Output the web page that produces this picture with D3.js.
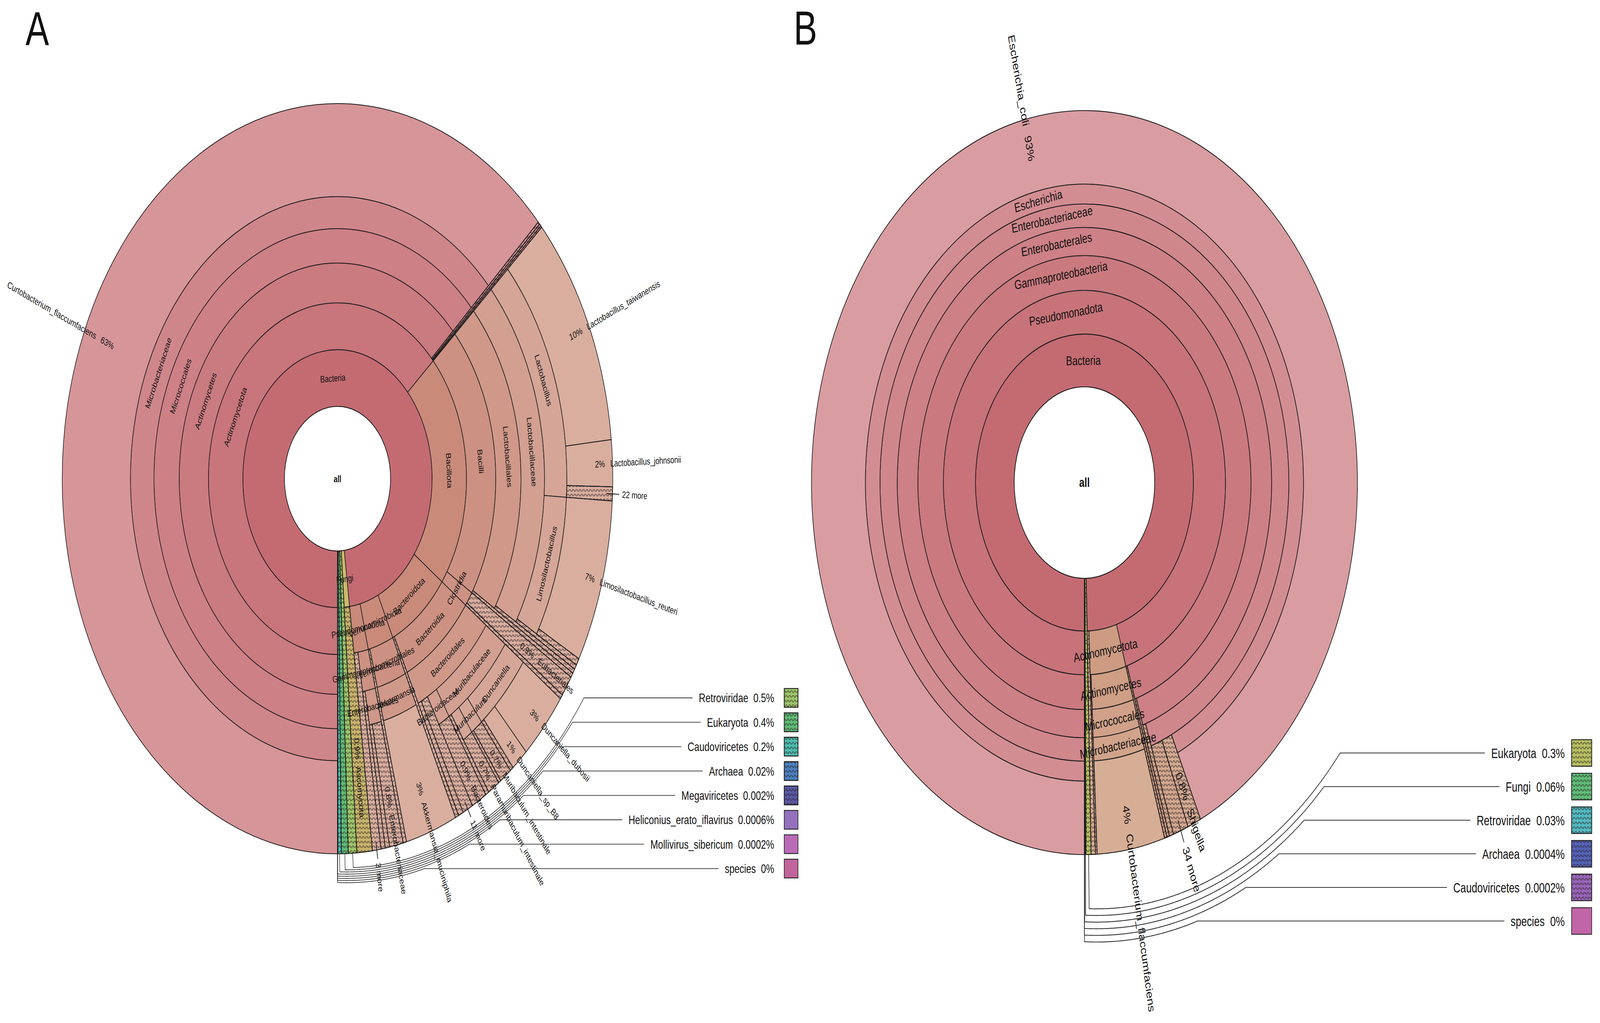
<!DOCTYPE html>
<html lang="en">
<head>
<meta charset="UTF-8">
<title>Krona charts A and B</title>
<script src="https://d3js.org/d3.v7.min.js"></script>
<style>
  html, body { margin: 0; padding: 0; background: #fff; overflow: hidden; }
  svg { display: block; width: 100vw; height: 100vh; font-family: "Liberation Sans", Arial, Helvetica, sans-serif; }
</style>
</head>
<body>
<div id="chart"></div>
<script>
// ---------- panel A data: [id, parent, percent] (ids starting with "~" are unnamed groups) ----------
const A_base = [["all", null], ["Bacteria", "all"]];
const A_actinomycetota = [
  ["Actinomycetota", "Bacteria"],
  ["Actinomycetes", "Actinomycetota"],
  ["Micrococcales", "Actinomycetes"],
  ["Microbacteriaceae", "Micrococcales"],
  ["Curtobacterium_flaccumfaciens", "Microbacteriaceae", 62.8],
  ["~ac1", "Actinomycetota", 0.12],
  ["~ac2", "Actinomycetota", 0.1],
  ["~ac3", "Actinomycetota", 0.08]
];
const A_bacillota = [
  ["Bacillota", "Bacteria"],
  ["Bacilli", "Bacillota"],
  ["Lactobacillales", "Bacilli"],
  ["Lactobacillaceae", "Lactobacillales"],
  ["Lactobacillus", "Lactobacillaceae"],
  ["Lactobacillus_taiwanensis", "Lactobacillus", 10],
  ["Lactobacillus_johnsonii", "Lactobacillus", 2],
  ["22 more", "Lactobacillus", 0.6],
  ["Limosilactobacillus", "Lactobacillaceae"],
  ["Limosilactobacillus_reuteri", "Limosilactobacillus", 7],
  ["~lb1", "Limosilactobacillus", 0.3],
  ["~lb2", "Lactobacillaceae", 0.2],
  ["~lb3", "Lactobacillales", 0.2],
  ["~lb4", "Bacilli", 0.2],
  ["Clostridia", "Bacillota"],
  ["Eubacteriales", "Clostridia", 0.9],
  ["~cl1", "Clostridia", 0.2]
];
const A_bacteroidota = [
  ["Bacteroidota", "Bacteria"],
  ["Bacteroidia", "Bacteroidota"],
  ["Bacteroidales", "Bacteroidia"],
  ["Muribaculaceae", "Bacteroidales"],
  ["Duncaniella", "Muribaculaceae"],
  ["Duncaniella_dubosii", "Duncaniella", 3],
  ["Duncaniella_sp_B8", "Duncaniella", 1],
  ["~dn1", "Duncaniella", 0.2],
  ["Muribaculum", "Muribaculaceae"],
  ["Muribaculum_intestinale", "Muribaculum", 0.7],
  ["~mb1", "Muribaculum", 0.15],
  ["~Paramuribaculum", "Muribaculaceae"],
  ["Paramuribaculum_intestinale", "~Paramuribaculum", 0.7],
  ["~mu1", "Muribaculaceae", 0.2],
  ["Bacteroidaceae", "Bacteroidales"],
  ["Bacteroides", "Bacteroidaceae", 0.9],
  ["11 more", "Bacteroidales", 0.6],
  ["~bd1", "Bacteroidales", 0.3],
  ["~bd2", "Bacteroidota", 0.2]
];
const A_verrucomicrobiota = [
  ["Verrucomicrobiota", "Bacteria"],
  ["Verrucomicrobiales", "Verrucomicrobiota"],
  ["Akkermansia", "Verrucomicrobiales"],
  ["Akkermansia_muciniphila", "Akkermansia", 3],
  ["~vr1", "Verrucomicrobiota", 0.2]
];
const A_pseudomonadota = [
  ["Pseudomonadota", "Bacteria"],
  ["Gammaproteobacteria", "Pseudomonadota"],
  ["Enterobacterales", "Gammaproteobacteria"],
  ["Enterobacteriaceae", "Enterobacterales", 0.8],
  ["~ps1", "Enterobacterales", 0.25],
  ["~ps2", "Gammaproteobacteria", 0.25],
  ["3 more", "Pseudomonadota", 0.5]
];
const A_others = [
  ["Fungi", "all"],
  ["Ascomycota", "Fungi", 0.9],
  ["Retroviridae", "all", 0.5],
  ["Eukaryota", "all", 0.4],
  ["Caudoviricetes", "all", 0.2],
  ["Archaea", "all", 0.02],
  ["Megaviricetes", "all", 0.002],
  ["Heliconius_erato_iflavirus", "all", 0.0006],
  ["Mollivirus_sibericum", "all", 0.0002],
  ["species", "all", 0]
];
const A_keyNames = ["Retroviridae", "Eukaryota", "Caudoviricetes", "Archaea", "Megaviricetes",
  "Heliconius_erato_iflavirus", "Mollivirus_sibericum", "species"];
const A_hatched = ["~ac1", "~ac2", "~ac3", "22 more", "~lb1", "~lb2", "~lb3", "~lb4", "Eubacteriales", "~cl1",
  "~dn1", "Muribaculum_intestinale", "~mb1", "Paramuribaculum_intestinale", "~mu1", "Bacteroides", "11 more",
  "~bd1", "~bd2", "~vr1", "Enterobacteriaceae", "~ps1", "~ps2", "3 more", "Ascomycota",
  "Retroviridae", "Eukaryota", "Caudoviricetes", "Archaea", "Megaviricetes"];

// ---------- panel B data ----------
const B_base = [["all", null], ["Bacteria", "all"]];
const B_pseudomonadota = [
  ["Pseudomonadota", "Bacteria"],
  ["Gammaproteobacteria", "Pseudomonadota"],
  ["Enterobacterales", "Gammaproteobacteria"],
  ["Enterobacteriaceae", "Enterobacterales"],
  ["Escherichia", "Enterobacteriaceae"],
  ["Escherichia_coli", "Escherichia", 93],
  ["Shigella", "Enterobacteriaceae", 0.8],
  ["34 more", "Enterobacteriaceae", 0.9],
  ["~eb2", "Enterobacterales", 0.25],
  ["~eb3", "Gammaproteobacteria", 0.15],
  ["~eb4", "Pseudomonadota", 0.15]
];
const B_actinomycetota = [
  ["Actinomycetota", "Bacteria"],
  ["Actinomycetes", "Actinomycetota"],
  ["Micrococcales", "Actinomycetes"],
  ["Microbacteriaceae", "Micrococcales"],
  ["Curtobacterium_flaccumfaciens", "Microbacteriaceae", 4],
  ["~ac1", "Actinomycetota", 0.1],
  ["~bo1", "Bacteria", 0.25]
];
const B_others = [
  ["Eukaryota", "all", 0.3],
  ["Fungi", "all", 0.06],
  ["Retroviridae", "all", 0.03],
  ["Archaea", "all", 0.0004],
  ["Caudoviricetes", "all", 0.0002],
  ["species", "all", 0]
];
const B_keyNames = ["Eukaryota", "Fungi", "Retroviridae", "Archaea", "Caudoviricetes", "species"];
const B_hatched = ["Shigella", "34 more", "~eb2", "~eb3", "~eb4", "~ac1", "~bo1",
  "Eukaryota", "Fungi", "Retroviridae", "Archaea", "Caudoviricetes"];

// ---------- colours ----------
const A_palette = {
  Bacteria: "#c46b72",
  ramps: { Actinomycetota: ["#c8757b", "#d18b90", "#d69599"], other: ["#c98a7a", "#d5a698", "#d9ae9f"] },
  solid: { Fungi: "#cdb96f", Ascomycota: "#c8b46b", Retroviridae: "#9dc56a", Eukaryota: "#5ebc77",
    Caudoviricetes: "#4dbcae", Archaea: "#4a80bf", Megaviricetes: "#5a57a6",
    Heliconius_erato_iflavirus: "#9571bd", Mollivirus_sibericum: "#b96bb6", species: "#c1649b" }
};
const B_palette = {
  Bacteria: "#c46b72",
  ramps: { Pseudomonadota: ["#c77379", "#d28d92", "#d99da1"], other: ["#cc9b82", "#d3a68d", "#d6ad95"] },
  solid: { Shigella: "#d5ab93", "34 more": "#d3a78f", "~eb2": "#d1a38b", "~eb3": "#cf9f87", "~eb4": "#cd9b84",
    Eukaryota: "#b7c062", Fungi: "#5fbd78", Retroviridae: "#52bbc2", Archaea: "#5462b8",
    Caudoviricetes: "#9865b9", species: "#c165a7" }
};

const width = 5580, height = 2618;
// the drawing is laid out on a 5580 x 2618 grid and stretched to fill the window
const svg = d3.select("#chart").append("svg")
  .attr("viewBox", `0 0 ${width} ${height}`)
  .attr("preserveAspectRatio", "none");
svg.append("rect").attr("width", width).attr("height", height).attr("fill", "#fff");

const pat = svg.append("defs").append("pattern")
  .attr("id", "hatch").attr("patternUnits", "userSpaceOnUse")
  .attr("width", 24).attr("height", 24);
pat.append("path")
  .attr("d", "M1,9L5,3M7,3L11,9M13,9L17,3M19,3L23,9M1,15L5,21M7,21L11,15M13,15L17,21M19,21L23,15")
  .attr("stroke", "#2b1f1f").attr("stroke-width", 1.5).attr("fill", "none");

const fmtPct = v => v >= 1 ? Math.round(v) + "%" : (v === 0 ? "0%" : d3.format(".1r")(v) + "%");

function colourFor(n, pal) {
  if (pal.solid[n.id]) return pal.solid[n.id];
  if (n.depth === 1) return pal.Bacteria;
  const phylum = n.ancestors().find(a => a.depth === 2);
  const ramp = pal.ramps[phylum.id] || pal.ramps.other;
  if (!n.children) return ramp[2];
  return d3.interpolateRgb(ramp[0], ramp[1])(Math.min(1, (n.depth - 2) / 4));
}

function drawPanel(cfg) {
  const g = svg.append("g");
  const root = d3.stratify().id(d => d[0]).parentId(d => d[1])(cfg.rows);
  root.sum(d => d[2] || 0);
  d3.partition().size([2 * Math.PI, 1])(root);

  const R = cfg.radii, rEdge = R[R.length - 1];
  const hatched = new Set(cfg.hatched);
  const keySet = new Set(cfg.keyNames);
  const ang = x => Math.PI + x;                       // start at the bottom, clockwise
  const pol = (r, a) => [cfg.cx + r * Math.sin(a), cfg.cy - r * Math.cos(a)];
  const inner = n => R[n.depth - 1];
  const outer = n => n.children ? R[n.depth] : rEdge;
  const arc = d3.arc()
    .startAngle(n => ang(n.x0)).endAngle(n => ang(n.x1))
    .innerRadius(inner).outerRadius(outer);

  const nodes = root.descendants().filter(n => n.depth > 0 && n.x1 > n.x0);
  const wg = g.append("g").attr("transform", `translate(${cfg.cx},${cfg.cy})`);
  wg.selectAll("path.wedge").data(nodes).join("path").attr("class", "wedge")
    .attr("d", arc).attr("fill", n => colourFor(n, cfg.palette))
    .attr("stroke", "#1a1a1a").attr("stroke-width", cfg.stroke);
  wg.selectAll("path.hatch").data(nodes.filter(n => hatched.has(n.id))).join("path").attr("class", "hatch")
    .attr("d", arc).attr("fill", "url(#hatch)")
    .attr("stroke", "#1a1a1a").attr("stroke-width", cfg.stroke);
  wg.append("circle").attr("r", R[0]).attr("fill", "#fff")
    .attr("stroke", "#1a1a1a").attr("stroke-width", cfg.stroke);
  wg.append("text").attr("text-anchor", "middle").attr("dominant-baseline", "central")
    .attr("font-size", cfg.font).attr("font-weight", "bold").attr("fill", "#111").text("all");

  // labels
  const lab = g.append("g").attr("font-size", cfg.font).attr("fill", "#111");
  const s = cfg.font / 23;
  nodes.forEach(n => {
    const id = n.id;
    if (id.startsWith("~") || keySet.has(id)) return;
    const a = ang((n.x0 + n.x1) / 2);
    const deg = (a * 180 / Math.PI) % 360;
    if (n.children) {
      const [x, y] = pol((inner(n) + outer(n)) / 2, a);
      const rot = Math.cos(a) >= 0 ? deg : deg - 180;
      lab.append("text").attr("transform", `translate(${x},${y}) rotate(${rot})`)
        .attr("text-anchor", "middle").attr("dominant-baseline", "central").text(id);
      return;
    }
    const right = deg < 180;
    const rot = right ? deg - 90 : deg - 270;
    if (/^\d+ more$/.test(id)) {
      const [x1, y1] = pol(rEdge - 20 * s, a), [x2, y2] = pol(rEdge + 22 * s, a);
      lab.append("line").attr("x1", x1).attr("y1", y1).attr("x2", x2).attr("y2", y2)
        .attr("stroke", "#111").attr("stroke-width", 2.2);
      const [tx, ty] = pol(rEdge + 32 * s, a);
      lab.append("text").attr("transform", `translate(${tx},${ty}) rotate(${rot})`)
        .attr("text-anchor", right ? "start" : "end").attr("dominant-baseline", "central").text(id);
      return;
    }
    const span = rEdge - inner(n);
    const gap = rEdge - Math.max(14, 0.45 * span - 55);
    const [nx, ny] = pol(gap + 9 * s, a), [px, py] = pol(gap - 9 * s, a);
    lab.append("text").attr("transform", `translate(${nx},${ny}) rotate(${rot})`)
      .attr("text-anchor", right ? "start" : "end").attr("dominant-baseline", "central").text(id);
    lab.append("text").attr("transform", `translate(${px},${py}) rotate(${rot})`)
      .attr("text-anchor", right ? "end" : "start").attr("dominant-baseline", "central").text(fmtPct(n.value));
  });

  // key for the small wedges
  const K = cfg.key;
  cfg.keyNames.forEach((name, k) => {
    const n = root.find(d => d.id === name);
    const a = ang((n.x0 + n.x1) / 2);
    const y = K.y0 + k * K.dy;
    const kt = g.append("text").attr("x", K.textRight).attr("y", y)
      .attr("text-anchor", "end").attr("dominant-baseline", "central")
      .attr("font-size", K.font).attr("fill", "#111");
    kt.append("tspan").text(name);
    kt.append("tspan").attr("dx", K.font * 0.55).text(fmtPct(n.value));
    const left = kt.node().getBBox().x;

    const sw = g.append("g");
    sw.append("rect").attr("x", K.swatchX).attr("y", y - K.sh / 2).attr("width", K.sw).attr("height", K.sh)
      .attr("fill", colourFor(n, cfg.palette)).attr("stroke", "#222").attr("stroke-width", 2.2);
    if (hatched.has(name)) {
      sw.append("rect").attr("x", K.swatchX).attr("y", y - K.sh / 2).attr("width", K.sw).attr("height", K.sh)
        .attr("fill", "url(#hatch)").attr("stroke", "#222").attr("stroke-width", 2.2);
    }

    // radial drop, then a slowly widening arc round the chart, then straight to the label
    const pts = [pol(rEdge, a)];
    const rad = t => K.b0 + K.slope * (180 - t) + k * K.sp;
    let prev = null;
    for (let th = a * 180 / Math.PI - 360; th > 40; th -= 0.2) {
      const t = th * Math.PI / 180, r = rad(th);
      const p = [cfg.cx + r * Math.sin(t), cfg.cy - r * Math.cos(t)];
      if (p[1] <= y) {
        if (prev) {
          const f = (prev[1] - y) / (prev[1] - p[1]);
          pts.push([prev[0] + f * (p[0] - prev[0]), y]);
        }
        break;
      }
      pts.push(p);
      prev = p;
    }
    pts.push([left - 22, y]);
    g.append("path").attr("d", d3.line()(pts)).attr("fill", "none")
      .attr("stroke", "#333").attr("stroke-width", K.lineWidth);
  });

  svg.append("text").attr("x", cfg.letter[0]).attr("y", cfg.letter[1])
    .attr("font-size", 123).attr("fill", "#111").text(cfg.title);
}

drawPanel({
  title: "A", letter: [89, 116],
  rows: [...A_base, ...A_actinomycetota, ...A_bacillota, ...A_bacteroidota,
         ...A_verrucomicrobiota, ...A_pseudomonadota, ...A_others],
  hatched: A_hatched, keyNames: A_keyNames, palette: A_palette,
  cx: 1177, cy: 1225, radii: [185, 330, 450, 552, 640, 722, 800, 960],
  font: 24, stroke: 2,
  key: { y0: 1786, dy: 62.4, textRight: 2700, swatchX: 2735, sw: 48, sh: 48, font: 32,
         b0: 995, sp: 5.5, slope: 0.55, lineWidth: 1.8 }
});

drawPanel({
  title: "B", letter: [2768, 114],
  rows: [...B_base, ...B_pseudomonadota, ...B_actinomycetota, ...B_others],
  hatched: B_hatched, keyNames: B_keyNames, palette: B_palette,
  cx: 3782, cy: 1235, radii: [245, 380, 492, 581, 653, 713, 764, 952],
  font: 33, stroke: 2.2,
  key: { y0: 1927, dy: 86, textRight: 5457, swatchX: 5481, sw: 70, sh: 68, font: 35,
         b0: 1090, sp: 17, slope: 0.74, lineWidth: 2.2 }
});
</script>
</body>
</html>
